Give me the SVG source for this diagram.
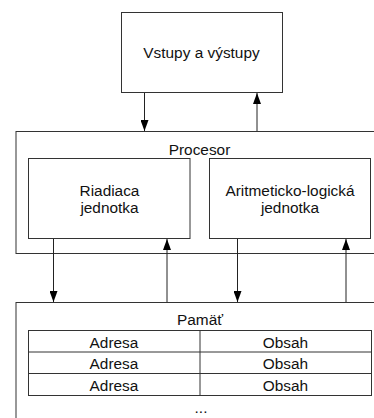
<svg xmlns="http://www.w3.org/2000/svg" width="374" height="418" viewBox="0 0 374 418">
  <style>
    .box { fill: #ffffff; stroke: #333333; stroke-width: 1; }
    .cell { fill: none; stroke: #333333; stroke-width: 1; }
    .lbl { font-family: "Liberation Sans", Arial, sans-serif; font-size: 15.4px; fill: #111111; text-anchor: middle; }
    .wire { stroke: #222222; stroke-width: 1; fill: none; }
  </style>
  <defs>
    <marker id="arrow" viewBox="0 0 11 8" refX="11" refY="4" markerWidth="11" markerHeight="8" markerUnits="userSpaceOnUse" orient="auto">
      <path d="M0,0 L11,4 L0,8 Z" fill="#000000"/>
    </marker>
  </defs>

  <rect width="374" height="418" fill="#ffffff"/>

  <!-- I/O unit -->
  <g id="io">
    <rect class="box" x="121.5" y="12.5" width="161" height="80"/>
    <text class="lbl" x="201.5" y="58">Vstupy a výstupy</text>
  </g>

  <!-- CPU container -->
  <g id="cpu">
    <rect class="box" x="16" y="131.5" width="400" height="122"/>
    <text class="lbl" x="199.5" y="155">Procesor</text>
  </g>

  <!-- Control unit -->
  <g id="control-unit">
    <rect class="box" x="28.5" y="158.5" width="161.5" height="80"/>
    <text class="lbl" x="109.5" y="196">Riadiaca</text>
    <text class="lbl" x="109.5" y="213">jednotka</text>
  </g>

  <!-- ALU -->
  <g id="alu">
    <rect class="box" x="209.5" y="158.5" width="161" height="80"/>
    <text class="lbl" x="290" y="196">Aritmeticko-logická</text>
    <text class="lbl" x="290" y="213">jednotka</text>
  </g>

  <!-- Memory -->
  <g id="memory">
    <rect class="box" x="16" y="302.5" width="400" height="200"/>
    <text class="lbl" x="200" y="325">Pamäť</text>
    <rect class="cell" x="28.5" y="330.5" width="343" height="65"/>
    <line class="cell" x1="28.5" y1="352" x2="371.5" y2="352"/>
    <line class="cell" x1="28.5" y1="373.5" x2="371.5" y2="373.5"/>
    <line class="cell" x1="200" y1="330.5" x2="200" y2="395.5"/>
    <text class="lbl" x="114" y="347.5">Adresa</text>
    <text class="lbl" x="285.5" y="347.5">Obsah</text>
    <text class="lbl" x="114" y="369">Adresa</text>
    <text class="lbl" x="285.5" y="369">Obsah</text>
    <text class="lbl" x="114" y="390.5">Adresa</text>
    <text class="lbl" x="285.5" y="390.5">Obsah</text>
    <text class="lbl" x="201" y="413">...</text>
  </g>

  <!-- Data paths -->
  <g id="connectors">
    <line class="wire" x1="144.5" y1="93" x2="144.5" y2="131" marker-end="url(#arrow)"/>
    <line class="wire" x1="257" y1="131" x2="257" y2="93" marker-end="url(#arrow)"/>
    <line class="wire" x1="53.5" y1="239" x2="53.5" y2="302" marker-end="url(#arrow)"/>
    <line class="wire" x1="167" y1="302" x2="167" y2="239" marker-end="url(#arrow)"/>
    <line class="wire" x1="237.5" y1="239" x2="237.5" y2="302" marker-end="url(#arrow)"/>
    <line class="wire" x1="346" y1="302" x2="346" y2="239" marker-end="url(#arrow)"/>
  </g>
</svg>
